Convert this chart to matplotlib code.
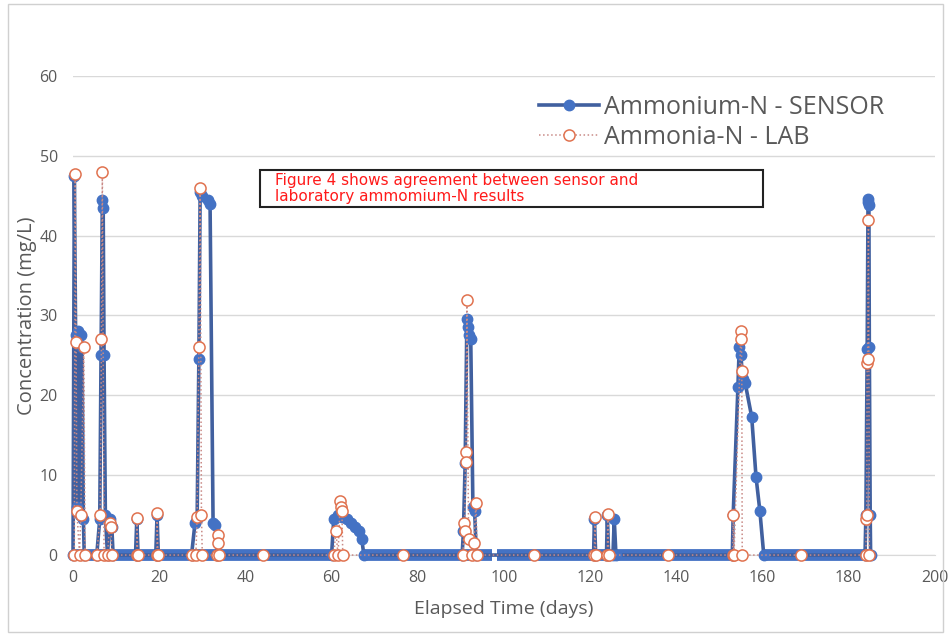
import matplotlib
matplotlib.use('Agg')
import matplotlib.pyplot as plt
from matplotlib.patches import Rectangle

# sensor readings (day, mg/L), in logging order
sensor_days = [0.0, 0.3, 0.6, 0.9, 1.2, 1.5, 1.8, 2.1, 2.4, 2.6,
               5.5, 6.2, 6.5, 6.8, 7.0, 7.2, 7.5, 8.0, 8.5, 9.0, 9.3,
               14.5, 14.8, 15.1, 19.2, 19.5, 19.8,
               27.5, 28.3, 28.8, 29.2, 29.5, 30.0, 31.3, 31.8, 32.5, 33.0, 33.5,
               60.0, 60.5, 61.5, 62.5, 63.5, 64.5, 65.5, 66.3, 67.0, 67.5,
               90.3, 90.6, 91.0, 91.4, 91.7, 92.0, 92.3, 92.8, 93.2, 93.6,
               120.8, 121.0, 121.3, 123.8, 124.0, 124.3, 125.3, 125.6, 126.0,
               153.0, 153.2, 154.3, 154.6, 155.0, 155.4, 156.0, 157.5, 158.5, 159.4, 160.3,
               183.8, 184.0, 184.3, 184.5, 184.6, 184.7, 184.8, 185.0, 185.1]
sensor_vals = [0, 47.5, 27.5, 6, 28, 5, 27.5, 26, 4.5, 0,
               0, 4.5, 25, 44.5, 43.5, 25, 5, 0, 4.5, 3.5, 0,
               0, 4.5, 0, 0, 5, 0,
               0, 4, 4.5, 24.5, 45.5, 45, 44.5, 44, 4, 3.8, 0,
               0, 4.5, 5, 4.8, 4.5, 4, 3.5, 3, 2, 0,
               0, 3, 11.5, 29.5, 28.5, 27.5, 27, 6, 5.5, 0,
               0, 4.5, 0, 0, 5, 0, 0, 4.5, 0,
               0, 5, 21, 26, 25, 22, 21.5, 17.3, 9.8, 5.5, 0,
               0, 5, 25.8, 44.6, 44.2, 43.8, 26, 5, 0]

# stretches where the sensor logged zero every few minutes
zero_start = [0.0, 67.5, 98.4, 160.3]
zero_end = [60.2, 97.3, 153.3, 184.6]

# laboratory samples (day, mg/L)
lab_days = [0.3, 0.5, 0.7, 0.9, 1.5, 1.8, 2.5, 2.8,
            5.5, 6.3, 6.6, 6.8, 7.2, 8.0, 8.5, 8.8, 9.0,
            14.8, 14.8, 15.0, 19.5, 19.5, 19.7,
            27.5, 28.5, 28.8, 29.2, 29.5, 29.8, 30.0, 33.5, 33.6, 33.7, 33.8,
            44.0,
            60.5, 61.0, 61.5, 62.0, 62.2, 62.4, 62.6,
            76.5,
            90.5, 90.7, 90.9, 91.1, 91.2, 91.4, 91.8, 92.5, 93.0, 93.5, 93.8,
            107.0,
            121.0, 121.1, 121.3, 124.0, 124.1, 124.3,
            138.0,
            153.1, 153.2, 153.4, 155.0, 155.1, 155.2, 155.3,
            169.0,
            184.0, 184.1, 184.2, 184.3, 184.4, 184.6, 184.8]
lab_vals = [0, 47.7, 26.7, 5.5, 0, 5, 26, 0,
            0, 5, 27, 48, 0, 0, 4, 3.5, 0,
            0, 4.7, 0, 0, 5.3, 0,
            0, 0, 4.8, 26, 46, 5, 0, 0, 2.5, 1.5, 0,
            0,
            0, 3, 0, 6.8, 6, 5.5, 0,
            0,
            0, 4, 3, 12.9, 11.7, 32, 2, 0, 1.5, 6.5, 0,
            0,
            0, 4.8, 0, 0, 5.2, 0,
            0,
            0, 5, 0, 28, 27, 23, 0,
            0,
            0, 4.5, 5, 24, 24.5, 42, 0]

x_ticks = list(range(0, 201, 20))
y_ticks = list(range(0, 61, 10))

blue = '#4472c4'
line_blue = '#41609f'
grey = '#595959'

plt.rcParams['font.family'] = ['Open Sans', 'DejaVu Sans']

fig = plt.figure(figsize=(9.51, 6.38), dpi=100)
ax = fig.add_axes([0.0768, 0.130, 0.9062, 0.751])

for s, e in zip(zero_start, zero_end):
    ax.hlines(0, s, e, color=blue, linewidth=8.5, zorder=3, clip_on=False)

ax.plot(sensor_days, sensor_vals, color=line_blue, linewidth=2.6, marker='o',
        markersize=7.5, markerfacecolor=blue, markeredgecolor=blue,
        label='Ammonium-N - SENSOR', zorder=4, clip_on=False)
ax.plot(lab_days, lab_vals, color='#c98a86', linewidth=1.1, linestyle=':',
        marker='o', markersize=8, markerfacecolor='white',
        markeredgecolor='#e0724f', markeredgewidth=1.1,
        label='Ammonia-N - LAB', zorder=5, clip_on=False)

ax.set_xlim(0, 200)
ax.set_ylim(0, 60)
ax.set_xticks(x_ticks)
ax.set_yticks(y_ticks)
ax.tick_params(length=0, labelsize=11.5, labelcolor=grey, pad=11)
ax.grid(axis='y', color='#d9d9d9', linewidth=1)
ax.set_axisbelow(True)
for side in ['top', 'right', 'left']:
    ax.spines[side].set_visible(False)
ax.spines['bottom'].set_color('#d9d9d9')

ax.set_xlabel('Elapsed Time (days)', fontsize=14, color=grey, labelpad=10)
ax.set_ylabel('Concentration (mg/L)', fontsize=14.5, color=grey, labelpad=2)

leg = ax.legend(loc='upper left', bbox_to_anchor=(0.5426, 0.887),
                bbox_transform=fig.transFigure, frameon=False, fontsize=18,
                handlelength=2.4, handletextpad=0.2, labelspacing=0.2)
for t in leg.get_texts():
    t.set_color(grey)

# note box
fig.patches.append(Rectangle((0.2734, 0.6755), 0.5289, 0.058,
                             transform=fig.transFigure, fill=False,
                             edgecolor='#222222', linewidth=1.5))
fig.text(0.289, 0.7045, 'Figure 4 shows agreement between sensor and\n'
         'laboratory ammomium-N results', color='#ff1a1a', fontsize=11,
         va='center', ha='left', linespacing=1.15, family=['DejaVu Sans'])

# outer chart border
fig.patches.append(Rectangle((0.008, 0.009), 0.984, 0.985,
                             transform=fig.transFigure, fill=False,
                             edgecolor='#d0d0d0', linewidth=1))

fig.savefig('out.png', dpi=100)
